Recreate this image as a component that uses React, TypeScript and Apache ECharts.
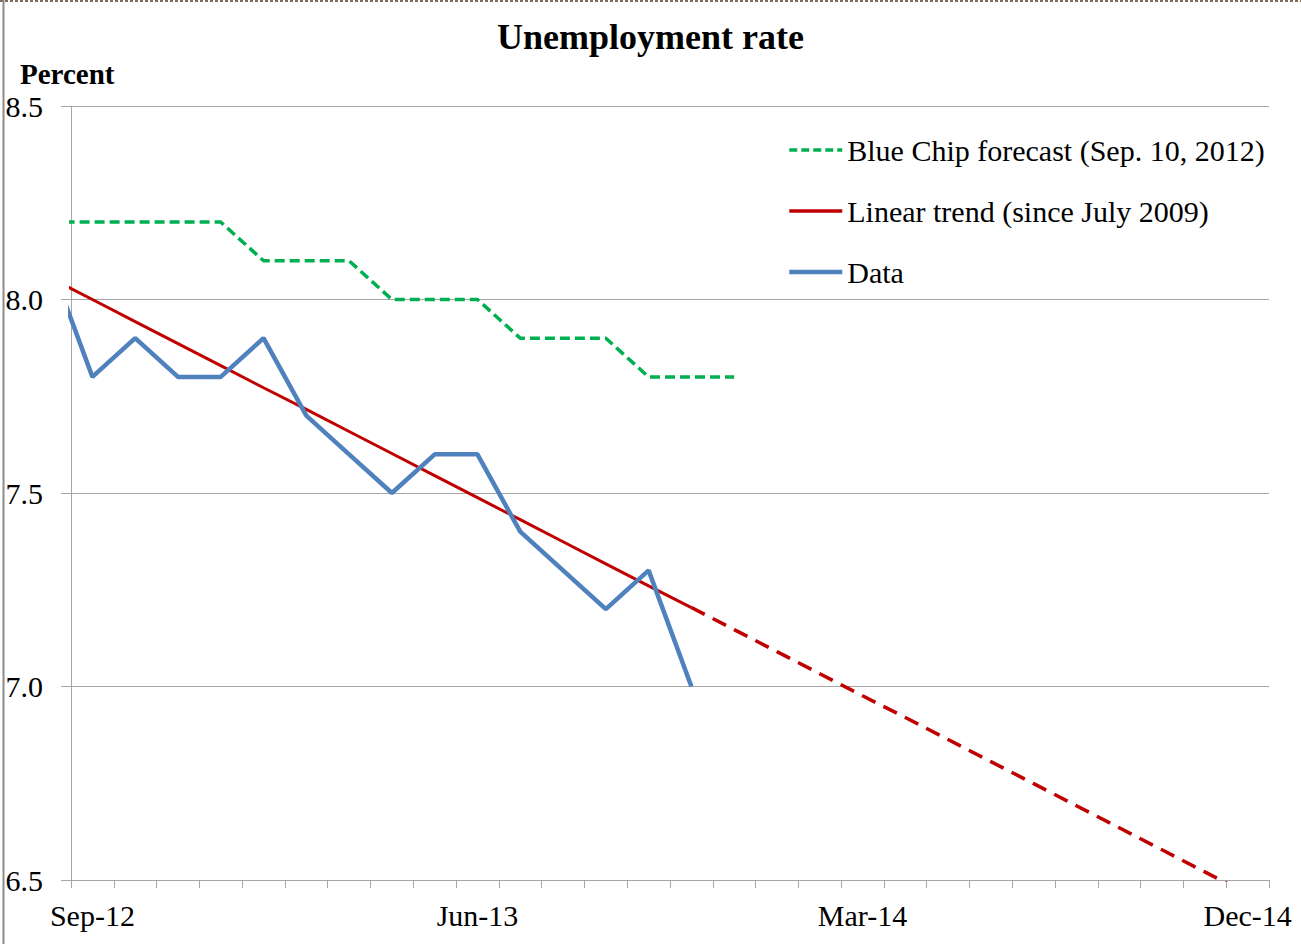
import React, { useEffect, useRef } from "react";
import * as echarts from "echarts";

// Month categories on the visible axis (Sep-12 .. Dec-14)
const categories = [
  "Sep-12", "Oct-12", "Nov-12", "Dec-12",
  "Jan-13", "Feb-13", "Mar-13", "Apr-13", "May-13", "Jun-13",
  "Jul-13", "Aug-13", "Sep-13", "Oct-13", "Nov-13", "Dec-13",
  "Jan-14", "Feb-14", "Mar-14", "Apr-14", "May-14", "Jun-14",
  "Jul-14", "Aug-14", "Sep-14", "Oct-14", "Nov-14", "Dec-14",
];

// Series values; month lists start at Aug-12 (one month before the visible axis)
const dataMonths = [
  "Aug-12", "Sep-12", "Oct-12", "Nov-12", "Dec-12", "Jan-13", "Feb-13", "Mar-13",
  "Apr-13", "May-13", "Jun-13", "Jul-13", "Aug-13", "Sep-13", "Oct-13", "Nov-13",
];
const dataValues = [8.1, 7.8, 7.9, 7.8, 7.8, 7.9, 7.7, 7.6, 7.5, 7.6, 7.6, 7.4, 7.3, 7.2, 7.3, 7.0];

const blueChipMonths = [
  "Aug-12", "Sep-12", "Oct-12", "Nov-12", "Dec-12", "Jan-13", "Feb-13", "Mar-13",
  "Apr-13", "May-13", "Jun-13", "Jul-13", "Aug-13", "Sep-13", "Oct-13", "Nov-13", "Dec-13",
];
const blueChipValues = [8.2, 8.2, 8.2, 8.2, 8.2, 8.1, 8.1, 8.1, 8.0, 8.0, 8.0, 7.9, 7.9, 7.9, 7.8, 7.8, 7.8];

const trendMonths = dataMonths;
const trendValues = [
  8.057, 8.0, 7.943, 7.886, 7.829, 7.772, 7.716, 7.659,
  7.602, 7.545, 7.488, 7.431, 7.374, 7.317, 7.26, 7.204,
];

const projectionMonths = [
  "Nov-13", "Dec-13", "Jan-14", "Feb-14", "Mar-14", "Apr-14", "May-14",
  "Jun-14", "Jul-14", "Aug-14", "Sep-14", "Oct-14", "Nov-14", "Dec-14",
];
const projectionValues = [
  7.204, 7.147, 7.09, 7.033, 6.976, 6.92, 6.863,
  6.806, 6.749, 6.692, 6.635, 6.578, 6.521, 6.464,
];

const yTicks = [6.5, 7.0, 7.5, 8.0, 8.5];

const seriesNames = {
  blueChip: "Blue Chip forecast (Sep. 10, 2012)",
  trend: "Linear trend (since July 2009)",
  projection: "Linear trend projection",
  data: "Data",
};

const FONT = "'Liberation Serif', 'Times New Roman', Times, serif";

const monthIndex = (m: string) => (m === "Aug-12" ? -1 : categories.indexOf(m));
const pairs = (months: string[], values: number[]) =>
  months.map((m, i) => [monthIndex(m), values[i]]);

export default function App() {
  const ref = useRef<HTMLDivElement>(null);

  useEffect(() => {
    document.body.style.margin = "0";
    if (!ref.current) return;
    const chart = echarts.init(ref.current, undefined, { renderer: "svg" });
    const axisColor = "#a6a6a6";
    const green = "#00b050";
    const red = "#c00000";
    const blue = "#4f81bd";
    const option: any = {
      animation: false,
      backgroundColor: "#ffffff",
      title: {
        text: "Unemployment rate",
        left: "center",
        top: 14,
        textStyle: { fontFamily: FONT, fontSize: 36, fontWeight: "bold", color: "#000" },
      },
      legend: {
        orient: "vertical",
        left: 787,
        top: 135,
        padding: 0,
        itemWidth: 53,
        itemHeight: 30,
        itemGap: 31,
        data: [
          { name: seriesNames.blueChip, lineStyle: { width: 3.5, color: green, type: [8, 4] } },
          { name: seriesNames.trend, lineStyle: { width: 3.5, color: red } },
          { name: seriesNames.data, lineStyle: { width: 4.5, color: blue } },
        ],
        itemStyle: { opacity: 0, borderWidth: 0 },
        textStyle: { fontFamily: FONT, fontSize: 30, color: "#000" },
      },
      grid: { left: 71, top: 106, right: 32, bottom: 64, containLabel: false },
      xAxis: [
        {
          type: "category",
          data: categories,
          boundaryGap: true,
          axisLine: { show: true, lineStyle: { color: axisColor, width: 1 } },
          axisTick: { show: true, interval: 0, length: 8, lineStyle: { color: axisColor } },
          axisLabel: { interval: 8, margin: 20, fontFamily: FONT, fontSize: 30, color: "#000" },
          splitLine: { show: false },
        },
        { type: "value", min: -0.5, max: 27.5, show: false, splitLine: { show: false } },
      ],
      yAxis: {
        type: "value",
        min: yTicks[0],
        max: yTicks[yTicks.length - 1],
        interval: 0.5,
        axisLine: { show: true, onZero: false, lineStyle: { color: axisColor, width: 1 } },
        axisTick: { show: true, length: 10, lineStyle: { color: axisColor } },
        axisLabel: {
          margin: 28,
          fontFamily: FONT,
          fontSize: 30,
          color: "#000",
          formatter: (v: number) => v.toFixed(1),
        },
        splitLine: { show: true, lineStyle: { color: axisColor, width: 1 } },
      },
      series: [
        {
          name: seriesNames.blueChip,
          type: "line",
          xAxisIndex: 1,
          symbol: "none",
          showSymbol: false,
          data: pairs(blueChipMonths, blueChipValues),
          lineStyle: { color: green, width: 3.5, type: [10, 5] },
          itemStyle: { color: green },
          clip: true,
        },
        {
          name: seriesNames.trend,
          type: "line",
          xAxisIndex: 1,
          symbol: "none",
          showSymbol: false,
          data: pairs(trendMonths, trendValues),
          lineStyle: { color: red, width: 3 },
          itemStyle: { color: red },
          clip: true,
        },
        {
          name: seriesNames.projection,
          type: "line",
          xAxisIndex: 1,
          symbol: "none",
          showSymbol: false,
          data: pairs(projectionMonths, projectionValues),
          lineStyle: { color: red, width: 3.5, type: [15, 9] },
          itemStyle: { color: red },
          clip: true,
        },
        {
          name: seriesNames.data,
          type: "line",
          xAxisIndex: 1,
          symbol: "none",
          showSymbol: false,
          data: pairs(dataMonths, dataValues),
          lineStyle: { color: blue, width: 4.5 },
          itemStyle: { color: blue },
          clip: true,
        },
      ],
      graphic: [
        {
          type: "line",
          shape: { x1: 0, y1: 1, x2: 1301, y2: 1 },
          style: { stroke: "#7f6f5a", lineWidth: 2, lineDash: [3, 2] },
          silent: true,
        },
        {
          type: "line",
          shape: { x1: 3.5, y1: 0, x2: 3.5, y2: 944 },
          style: { stroke: "#8c8c8c", lineWidth: 2 },
          silent: true,
        },
        {
          type: "text",
          left: 20,
          top: 59,
          style: {
            text: "Percent",
            fontFamily: FONT,
            fontSize: 29,
            fontWeight: "bold",
            fill: "#000",
          },
        },
      ],
    };
    chart.setOption(option);
    return () => chart.dispose();
  }, []);

  return <div ref={ref} style={{ width: 1301, height: 944 }} />;
}
